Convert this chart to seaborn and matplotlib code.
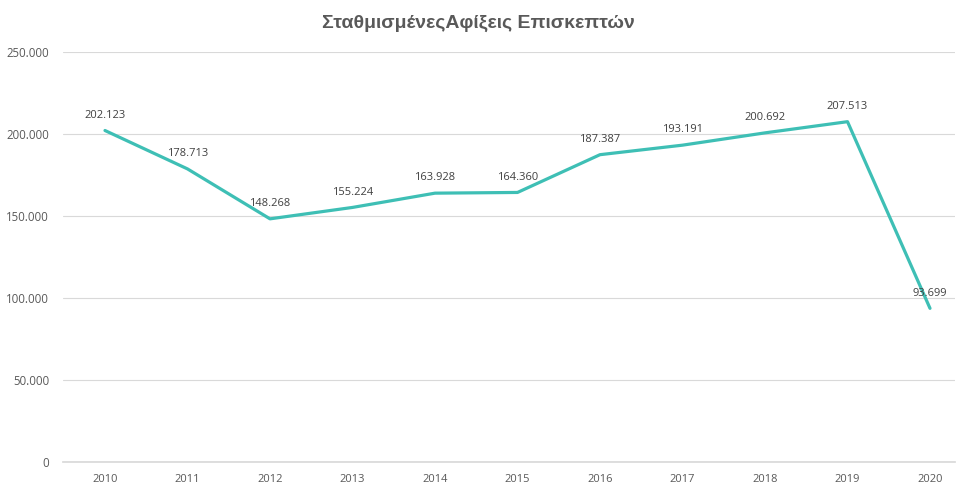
import matplotlib
matplotlib.use("Agg")
import matplotlib.pyplot as plt
import pandas as pd
import seaborn as sns

# Data
years = ["2010", "2011", "2012", "2013", "2014", "2015", "2016", "2017", "2018", "2019", "2020"]
arrivals = [202123, 178713, 148268, 155224, 163928, 164360, 187387, 193191, 200692, 207513, 93699]
title = "ΣταθμισμένεςΑφίξεις Επισκεπτών"

df = pd.DataFrame({"year": years, "value": arrivals})
df["pos"] = range(len(df))

sns.set_theme(style="white")
plt.rcParams["font.family"] = ["Open Sans", "DejaVu Sans"]

fig = plt.figure(figsize=(9.56, 4.84), dpi=100)
ax = fig.add_axes([63 / 956, 22 / 484, (955 - 63) / 956, 410 / 484])

sns.lineplot(data=df, x="pos", y="value", ax=ax, color="#3EBFB5", linewidth=2.3)

# data labels
for x, v in zip(df["pos"], df["value"]):
    label = f"{v:,}".replace(",", ".")
    ax.annotate(label, (x, v), xytext=(0, 11), textcoords="offset points",
                ha="center", va="center", fontsize=8, color="#404040")

ax.set_xlim(-0.509, 10.303)
ax.set_ylim(0, 250000)
ax.set_yticks(range(0, 250001, 50000))
ax.set_yticklabels(["0" if t == 0 else f"{t:,}".replace(",", ".") for t in range(0, 250001, 50000)])
ax.set_xticks(df["pos"])
ax.set_xticklabels(years)
ax.tick_params(axis="x", labelsize=8, labelcolor="#595959", length=0, pad=8.5)
ax.tick_params(axis="y", labelsize=8.3, labelcolor="#595959", length=0, pad=10)

ax.grid(axis="y", color="#D9D9D9", linewidth=0.8)
ax.set_axisbelow(True)
for side in ["top", "right", "left"]:
    ax.spines[side].set_visible(False)
ax.spines["bottom"].set_color("#D9D9D9")
ax.set_xlabel("")
ax.set_ylabel("")

fig.text(0.5, 1 - 23 / 484, title, ha="center", va="center", fontsize=14,
         fontweight="bold", color="#595959", family=["Liberation Sans", "DejaVu Sans"])

fig.savefig("out.png", dpi=100)
